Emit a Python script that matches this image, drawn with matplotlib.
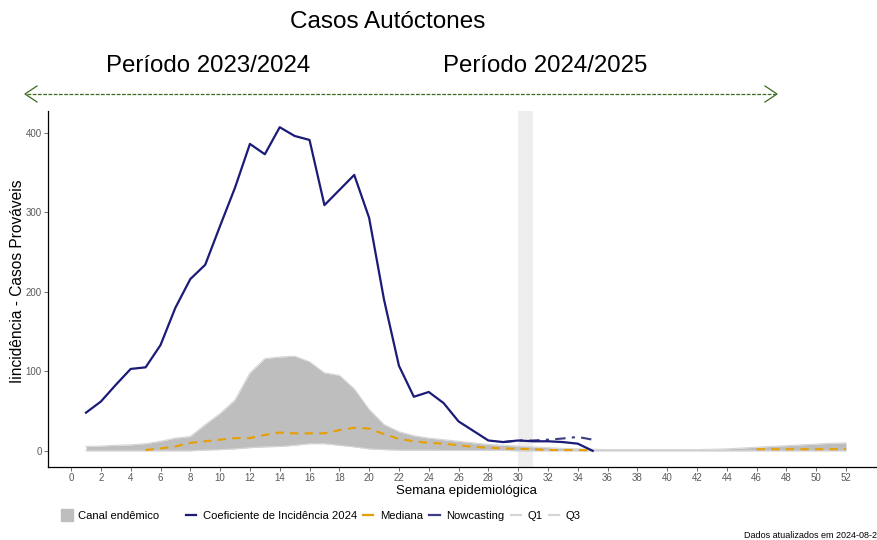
import matplotlib.pyplot as plt
from matplotlib.lines import Line2D

plt.rcParams['font.family'] = ['Liberation Sans', 'DejaVu Sans']

nan = float('nan')

# weeks of the endemic channel
weeks = list(range(1, 53))

# upper / lower quartile of the endemic channel
q3 = [5.5, 6, 7, 7.5, 9, 12, 16, 18, 33, 47, 64, 98, 116, 118, 119, 112, 98, 95,
      78, 52, 33, 24, 19, 16, 14, 12, 10, 8, 7, 6, 5, 4, 3, 2.5, 2, 1.5, 1.5, 1.5,
      1.5, 1.5, 1.5, 1.5, 2, 2.5, 3.5, 4.5, 5.5, 6.5, 7.5, 8.5, 9.5, 10]
q1 = [0, 0, 0, 0, 0, 0, 0, 0, 1, 1.5, 2.5, 4, 5, 5.5, 7, 9, 9, 7, 5, 2.5, 1.5, 1,
      1, 1, 0.5, 0.5, 0.5, 0.5, 0.5, 0, 0, 0, 0, 0, 0, 0, 0, 0, 0, 0, 0, 0, 0, 0,
      0, 0, 0, 0, 0, 0, 0, 0]
mediana = [nan, nan, nan, nan, 1, 3, 5.5, 10, 12, 14, 16, 16, 20, 23, 22, 22, 22, 26,
           29, 28, 21, 15, 12, 10, 9, 7, 5, 4, 3, 2.5, 2, 1, 1, 1, 0.5, nan, nan, nan,
           nan, nan, nan, nan, nan, nan, nan, 2, 2, 2, 2, 2, 2, 2]

# incidence coefficient 2024
sem_2024 = list(range(1, 36))
inc_2024 = [48, 62, 83, 103, 105, 133, 180, 216, 234, 283, 331, 386, 373, 407,
            396, 391, 309, 328, 347, 293, 190, 107, 68, 74, 60, 37, 25, 13, 11,
            13, 12, 12, 11, 9, 0]

# nowcasting
sem_now = [29, 30, 31, 32, 33, 34, 35]
inc_now = [11, 13, 13, 14, 15.5, 17.5, 14]

fig = plt.figure(figsize=(8.78, 5.40), dpi=100)
ax = fig.add_axes([48 / 878, 73 / 540, 836 / 878, 356 / 540])

ax.axvspan(30, 31, color='#eeeeee', zorder=0, lw=0)
ax.fill_between(weeks, q1, q3, color='#bebebe', lw=0, zorder=1)
ax.plot(weeks, q1, color='#d6d6d6', lw=0.8, zorder=2)
ax.plot(weeks, q3, color='#d6d6d6', lw=0.8, zorder=2)
ax.plot(weeks, mediana, color='#E69F00', lw=1.5, dashes=(4, 3), zorder=3)
ax.plot(sem_now, inc_now, color='#3c3c82', lw=1.5, dashes=(5, 3, 1.5, 3), zorder=4)
ax.plot(sem_2024, inc_2024, color='#1b1b78', lw=1.6, zorder=5)

ax.set_xlim(-1.55, 54.55)
ax.set_ylim(-20.35, 427.4)
ax.set_xticks(range(0, 53, 2))
ax.set_yticks([0, 100, 200, 300, 400])
ax.tick_params(labelsize=7, colors='#5a5a5a', length=3, width=0.6, pad=1.5)
for s in ['top', 'right']:
    ax.spines[s].set_visible(False)
for s in ['left', 'bottom']:
    ax.spines[s].set_linewidth(0.9)
ax.set_xlabel('Semana epidemiológica', fontsize=9.5, labelpad=1)
ax.set_ylabel('Iincidência - Casos Prováveis', fontsize=11.2)
ax.yaxis.set_label_coords(-0.0275, 0.522)

# titles
fig.text(388 / 878, 1 - 22 / 540, 'Casos Autóctones', fontsize=17.5, ha='center', va='center')
fig.text(208 / 878, 1 - 66 / 540, 'Período 2023/2024', fontsize=17.3, ha='center', va='center')
fig.text(545 / 878, 1 - 66 / 540, 'Período 2024/2025', fontsize=17.3, ha='center', va='center')

# period arrow
green = '#3b6b1e'
ya = 1 - 94 / 540
dy = 8 / 540
fig.add_artist(Line2D([27 / 878, 775 / 878], [ya, ya], color=green, lw=0.9,
                      dashes=(3, 1.2), transform=fig.transFigure))
fig.add_artist(Line2D([37 / 878, 25 / 878, 37 / 878], [ya + dy, ya, ya - dy],
                      color=green, lw=0.9, transform=fig.transFigure))
fig.add_artist(Line2D([765 / 878, 777 / 878, 765 / 878], [ya + dy, ya, ya - dy],
                      color=green, lw=0.9, transform=fig.transFigure))

# legends
h_fill = [Line2D([], [], marker='s', markersize=9, color='#bebebe', ls='none')]
fig.legend(h_fill, ['Canal endêmico'], loc='center left',
           bbox_to_anchor=(50 / 878, 1 - 516 / 540), frameon=False,
           fontsize=8.1, handlelength=1.2, handletextpad=0.4)
h_col = [Line2D([], [], color='#1b1b78', lw=1.6),
         Line2D([], [], color='#E69F00', lw=1.6),
         Line2D([], [], color='#3c3c82', lw=1.6),
         Line2D([], [], color='#d6d6d6', lw=1.6),
         Line2D([], [], color='#d6d6d6', lw=1.6)]
fig.legend(h_col, ['Coeficiente de Incidência 2024', 'Mediana', 'Nowcasting', 'Q1', 'Q3'],
           loc='center left', bbox_to_anchor=(176 / 878, 1 - 516 / 540), ncol=5,
           frameon=False, fontsize=8.1, handlelength=0.9, handletextpad=0.6,
           columnspacing=0.55)

fig.text(0.999, 1 - 535 / 540, 'Dados atualizados em 2024-08-2', fontsize=6.5,
         ha='right', va='center')

fig.savefig('out.png', dpi=100)
